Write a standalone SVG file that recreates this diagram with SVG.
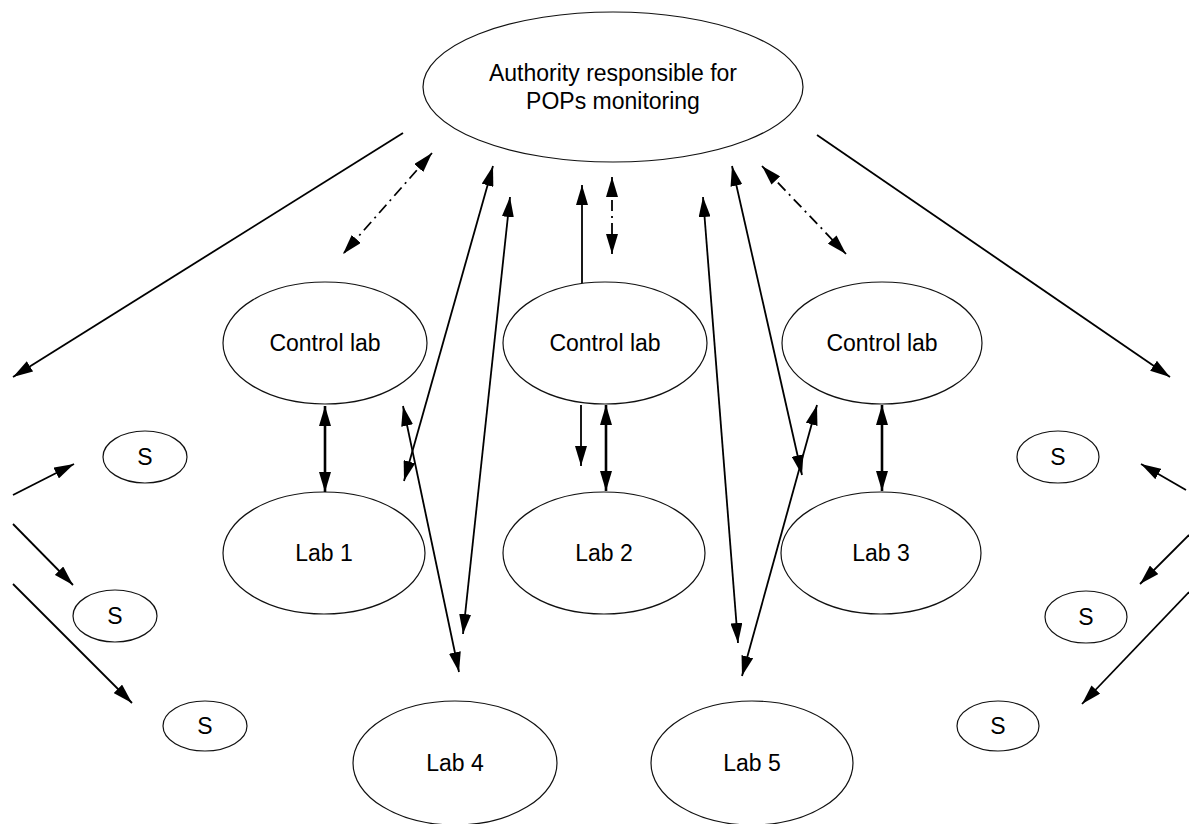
<svg xmlns="http://www.w3.org/2000/svg" width="1189" height="824" viewBox="0 0 1189 824">
<style>
.node ellipse{fill:#fff;stroke:#111;stroke-width:1.2}
.node text{font-family:"Liberation Sans",Arial,sans-serif;font-size:23px;fill:#000;text-anchor:middle}
.c line{stroke:#000;stroke-width:1.8;fill:none}
.c .thick{stroke-width:2.6}
.c .dd{stroke-dasharray:11 5 2 5}
</style>
<defs>
<marker id="ah" viewBox="0 0 20 12" refX="20" refY="6" markerWidth="20" markerHeight="12" markerUnits="userSpaceOnUse" orient="auto-start-reverse">
<path d="M0,0 L20,6 L0,12 z" fill="#000"/>
</marker>
</defs>
<rect width="1189" height="824" fill="#fff"/>
<g id="authority" class="node"><ellipse cx="613" cy="87" rx="190" ry="75"/><text x="613" y="81">Authority responsible for</text><text x="613" y="109">POPs monitoring</text></g>
<g id="control1" class="node"><ellipse cx="325" cy="343" rx="102" ry="61"/><text x="325" y="351">Control lab</text></g>
<g id="control2" class="node"><ellipse cx="605" cy="343" rx="102" ry="61"/><text x="605" y="351">Control lab</text></g>
<g id="control3" class="node"><ellipse cx="882" cy="343" rx="100" ry="61"/><text x="882" y="351">Control lab</text></g>
<g id="lab1" class="node"><ellipse cx="324" cy="553" rx="101" ry="61"/><text x="324" y="561">Lab 1</text></g>
<g id="lab2" class="node"><ellipse cx="604" cy="553" rx="101" ry="61"/><text x="604" y="561">Lab 2</text></g>
<g id="lab3" class="node"><ellipse cx="881" cy="553" rx="100" ry="61"/><text x="881" y="561">Lab 3</text></g>
<g id="lab4" class="node"><ellipse cx="455" cy="763" rx="102" ry="62"/><text x="455" y="771">Lab 4</text></g>
<g id="lab5" class="node"><ellipse cx="752" cy="763" rx="101" ry="62"/><text x="752" y="771">Lab 5</text></g>
<g id="s1" class="node"><ellipse cx="145" cy="457" rx="42" ry="26"/><text x="145" y="465">S</text></g>
<g id="s2" class="node"><ellipse cx="115" cy="616" rx="42" ry="26"/><text x="115" y="624">S</text></g>
<g id="s3" class="node"><ellipse cx="205" cy="726" rx="42" ry="25"/><text x="205" y="734">S</text></g>
<g id="s4" class="node"><ellipse cx="1058" cy="457" rx="41" ry="26"/><text x="1058" y="465">S</text></g>
<g id="s5" class="node"><ellipse cx="1086" cy="617" rx="41" ry="26"/><text x="1086" y="625">S</text></g>
<g id="s6" class="node"><ellipse cx="998" cy="726" rx="41" ry="25"/><text x="998" y="734">S</text></g>
<g id="connectors" class="c">
<line x1="403" y1="133" x2="13" y2="377" marker-end="url(#ah)"/>
<line x1="817" y1="135" x2="1170" y2="377" marker-end="url(#ah)"/>
<line class="dd" x1="432" y1="153" x2="343" y2="254" marker-start="url(#ah)" marker-end="url(#ah)"/>
<line class="dd" x1="762" y1="166" x2="846" y2="254" marker-start="url(#ah)" marker-end="url(#ah)"/>
<line class="dd" x1="612" y1="177" x2="612" y2="254" marker-start="url(#ah)" marker-end="url(#ah)"/>
<line x1="582" y1="283" x2="582" y2="185" marker-end="url(#ah)"/>
<line x1="581" y1="405" x2="581" y2="466" marker-end="url(#ah)"/>
<line class="thick" x1="606" y1="405" x2="606" y2="491" marker-start="url(#ah)" marker-end="url(#ah)"/>
<line class="thick" x1="325" y1="406" x2="325" y2="492" marker-start="url(#ah)" marker-end="url(#ah)"/>
<line class="thick" x1="882" y1="405" x2="882" y2="491" marker-start="url(#ah)" marker-end="url(#ah)"/>
<line x1="493" y1="166" x2="404" y2="481" marker-start="url(#ah)" marker-end="url(#ah)"/>
<line x1="510" y1="197" x2="463" y2="634" marker-start="url(#ah)" marker-end="url(#ah)"/>
<line x1="403" y1="406" x2="459" y2="672" marker-start="url(#ah)" marker-end="url(#ah)"/>
<line x1="732" y1="166" x2="802" y2="475" marker-start="url(#ah)" marker-end="url(#ah)"/>
<line x1="703" y1="197" x2="738" y2="643" marker-start="url(#ah)" marker-end="url(#ah)"/>
<line x1="817" y1="405" x2="742" y2="676" marker-start="url(#ah)" marker-end="url(#ah)"/>
<line x1="13" y1="495" x2="74" y2="464" marker-end="url(#ah)"/>
<line x1="13" y1="524" x2="73" y2="585" marker-end="url(#ah)"/>
<line x1="13" y1="584" x2="132" y2="703" marker-end="url(#ah)"/>
<line x1="1186" y1="490" x2="1141" y2="464" marker-end="url(#ah)"/>
<line x1="1189" y1="535" x2="1140" y2="584" marker-end="url(#ah)"/>
<line x1="1189" y1="592" x2="1082" y2="704" marker-end="url(#ah)"/>
</g>
</svg>
